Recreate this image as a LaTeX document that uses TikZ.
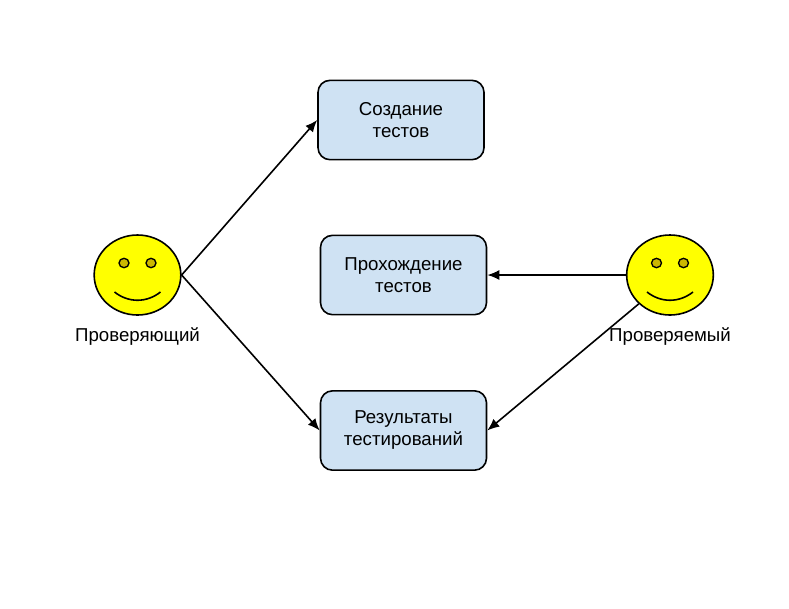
\documentclass[tikz,border=0pt]{standalone}
\usepackage{fontspec}
\setmainfont{Liberation Sans}
\usetikzlibrary{arrows.meta,shapes,positioning}
\definecolor{boxblue}{RGB}{207,226,243}
\definecolor{faceyellow}{RGB}{255,255,0}
\definecolor{eyeyellow}{RGB}{204,184,0}
\tikzstyle{process} = [rectangle, rounded corners=9pt, minimum width=124.5pt, minimum height=59.5pt, align=center, draw=black, fill=boxblue, line width=1.2pt, font=\fontsize{14}{16.5}\selectfont]
\tikzstyle{face} = [ellipse, minimum width=65pt, minimum height=60pt, inner sep=0pt, draw=black, fill=faceyellow, line width=1.2pt]
\tikzstyle{eye} = [ellipse, minimum width=7.5pt, minimum height=7pt, inner sep=0pt, draw=black, fill=eyeyellow, line width=1pt]
\tikzstyle{person} = [font=\fontsize{14}{16}\selectfont, inner sep=0pt]
\tikzstyle{arrow} = [line width=1.2pt,-{Latex[length=9pt,width=7.5pt]}]
\begin{document}
\begin{tikzpicture}[x=0.75pt,y=-0.75pt]
\useasboundingbox (0,0) rectangle (789,608);
% Boxes
\node (create) [process] at (401,120) {Создание\\тестов};
\node (pass) [process] at (403.5,275) {Прохождение\\тестов};
\node (results) [process] at (403.5,430.5) {Результаты\\тестирований};
% Faces
\node (checker) [face] at (137.5,275) {};
\node (student) [face] at (670,275) {};
\node (checkerlabel) [person, below=9pt of checker] {Проверяющий};
\node (studentlabel) [person, below=9pt of student] {Проверяемый};
\foreach \who in {checker,student} {
  \node (\who lefteye) [eye] at ([shift={(-13.5,-12)}]\who.center) {};
  \node (\who righteye) [eye] at ([shift={(13.5,-12)}]\who.center) {};
  \draw [line width=1.2pt] ([shift={(-23,17)}]\who.center) .. controls ([shift={(-9,28)}]\who.center) and ([shift={(9,28)}]\who.center) .. ([shift={(23,17)}]\who.center);
}
% Arrows
\draw [arrow] (checker.east) -- (create.west);
\draw [arrow] (checker.east) -- (results.west);
\draw [arrow] (student.west) -- (pass.east);
\draw [arrow] (student.south west) -- (results.east);
\end{tikzpicture}
\end{document}
